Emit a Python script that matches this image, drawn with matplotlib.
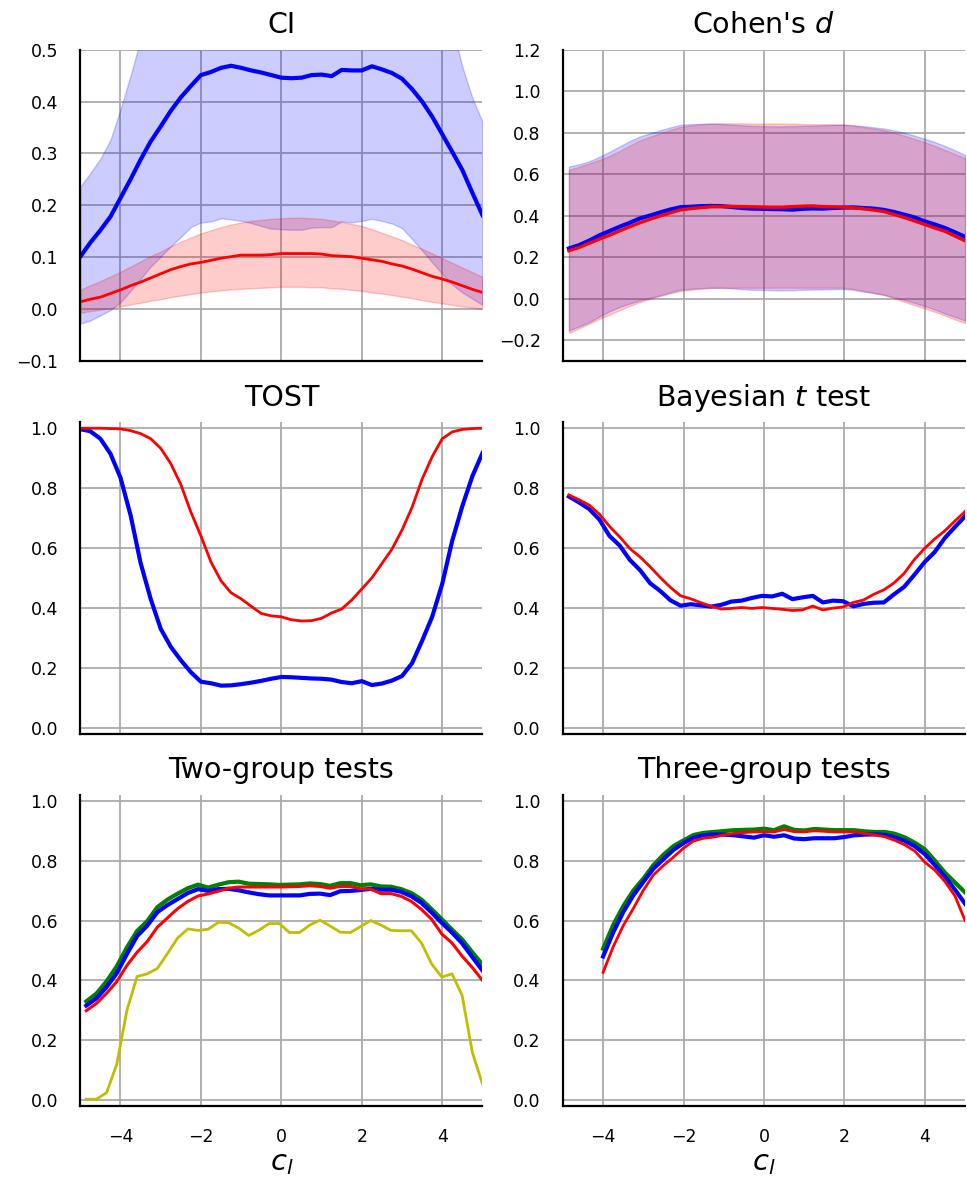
"""
Summary figure: interval estimates and detection rates as a function of c_l.
"""

import numpy as np
import matplotlib

matplotlib.use("Agg")
import matplotlib.pyplot as plt

# x grids
C_L_FULL = np.arange(-5.0, 5.01, 0.25)
C_L_SHORT = np.linspace(-4.85, 5.0, 40)
C_L_THREE = np.arange(-4.0, 5.01, 0.25)

# CI panel (grid C_L_FULL)
CI_BLUE_MEAN = [0.101, 0.128, 0.152, 0.178, 0.214, 0.250, 0.288, 0.323, 0.352, 0.382,
                0.408, 0.430, 0.451, 0.457, 0.465, 0.469, 0.465, 0.460, 0.456, 0.451,
                0.446, 0.445, 0.446, 0.451, 0.452, 0.449, 0.461, 0.460, 0.460, 0.468,
                0.462, 0.455, 0.444, 0.424, 0.400, 0.371, 0.337, 0.303, 0.268, 0.224,
                0.181]
CI_BLUE_LO = [-0.028, -0.022, -0.012, -0.002, 0.013, 0.035, 0.058, 0.082, 0.101, 0.121,
              0.139, 0.158, 0.167, 0.169, 0.175, 0.173, 0.170, 0.166, 0.160, 0.155,
              0.154, 0.153, 0.153, 0.157, 0.158, 0.158, 0.169, 0.167, 0.170, 0.174,
              0.170, 0.165, 0.156, 0.135, 0.113, 0.090, 0.068, 0.047, 0.032, 0.020,
              0.008]
CI_BLUE_HI = [0.236, 0.262, 0.290, 0.326, 0.385, 0.450, 0.520, 0.570, 0.603, 0.643,
              0.677, 0.702, 0.735, 0.745, 0.755, 0.765, 0.760, 0.754, 0.752, 0.747,
              0.738, 0.737, 0.739, 0.745, 0.746, 0.740, 0.753, 0.753, 0.750, 0.762,
              0.754, 0.745, 0.732, 0.713, 0.687, 0.652, 0.606, 0.545, 0.467, 0.407,
              0.361]
CI_RED_MEAN = [0.014, 0.019, 0.023, 0.030, 0.037, 0.045, 0.052, 0.060, 0.068, 0.076,
               0.082, 0.087, 0.090, 0.094, 0.098, 0.101, 0.104, 0.104, 0.104, 0.105,
               0.107, 0.107, 0.107, 0.107, 0.106, 0.103, 0.102, 0.101, 0.098, 0.095,
               0.092, 0.087, 0.083, 0.077, 0.070, 0.063, 0.058, 0.052, 0.045, 0.038,
               0.032]
CI_RED_LO = [-0.007, -0.004, -0.001, 0.002, 0.005, 0.009, 0.012, 0.016, 0.019, 0.023,
             0.026, 0.029, 0.032, 0.034, 0.036, 0.038, 0.039, 0.040, 0.041, 0.042,
             0.043, 0.043, 0.043, 0.042, 0.042, 0.040, 0.039, 0.037, 0.035, 0.032,
             0.030, 0.027, 0.024, 0.021, 0.017, 0.014, 0.011, 0.008, 0.005, 0.003,
             0.000]
CI_RED_HI = [0.037, 0.046, 0.054, 0.063, 0.072, 0.082, 0.092, 0.102, 0.111, 0.121,
             0.130, 0.138, 0.146, 0.152, 0.158, 0.163, 0.167, 0.170, 0.172, 0.174,
             0.175, 0.176, 0.176, 0.175, 0.174, 0.171, 0.168, 0.164, 0.160, 0.154,
             0.147, 0.140, 0.133, 0.124, 0.116, 0.107, 0.098, 0.089, 0.080, 0.071,
             0.062]

# Cohen's d panel (grid C_L_SHORT)
D_BLUE_MEAN = [0.242, 0.258, 0.280, 0.305, 0.326, 0.347, 0.366, 0.387, 0.401, 0.416,
               0.430, 0.441, 0.443, 0.446, 0.447, 0.446, 0.442, 0.437, 0.434, 0.433,
               0.432, 0.431, 0.429, 0.433, 0.435, 0.434, 0.437, 0.439, 0.440, 0.437,
               0.434, 0.428, 0.418, 0.405, 0.392, 0.373, 0.358, 0.341, 0.320, 0.298]
D_BLUE_LO = [-0.153, -0.134, -0.113, -0.086, -0.061, -0.040, -0.023, -0.008, 0.004, 0.017,
             0.031, 0.044, 0.048, 0.051, 0.053, 0.052, 0.050, 0.046, 0.043, 0.042,
             0.041, 0.040, 0.041, 0.043, 0.044, 0.045, 0.046, 0.047, 0.043, 0.034,
             0.027, 0.019, 0.007, -0.006, -0.020, -0.035, -0.052, -0.071, -0.088, -0.105]
D_BLUE_HI = [0.637, 0.648, 0.662, 0.684, 0.708, 0.734, 0.760, 0.782, 0.797, 0.812,
             0.826, 0.838, 0.841, 0.843, 0.844, 0.842, 0.839, 0.836, 0.833, 0.832,
             0.831, 0.831, 0.832, 0.833, 0.834, 0.836, 0.838, 0.839, 0.836, 0.831,
             0.826, 0.820, 0.811, 0.800, 0.786, 0.771, 0.755, 0.736, 0.715, 0.693]
D_RED_MEAN = [0.231, 0.247, 0.267, 0.287, 0.306, 0.327, 0.347, 0.366, 0.383, 0.399,
              0.414, 0.428, 0.434, 0.439, 0.443, 0.444, 0.445, 0.444, 0.443, 0.442,
              0.441, 0.441, 0.444, 0.446, 0.447, 0.444, 0.443, 0.441, 0.438, 0.433,
              0.427, 0.420, 0.406, 0.391, 0.375, 0.358, 0.341, 0.325, 0.302, 0.279]
D_RED_LO = [-0.166, -0.143, -0.120, -0.098, -0.077, -0.055, -0.035, -0.016, 0.000, 0.013,
            0.026, 0.037, 0.043, 0.048, 0.052, 0.053, 0.053, 0.053, 0.053, 0.053,
            0.053, 0.053, 0.053, 0.053, 0.053, 0.053, 0.053, 0.053, 0.047, 0.038,
            0.029, 0.018, 0.002, -0.015, -0.031, -0.046, -0.063, -0.081, -0.100, -0.118]
D_RED_HI = [0.621, 0.636, 0.652, 0.669, 0.688, 0.712, 0.738, 0.763, 0.781, 0.797,
            0.814, 0.828, 0.835, 0.840, 0.844, 0.845, 0.845, 0.845, 0.844, 0.844,
            0.844, 0.844, 0.843, 0.842, 0.841, 0.841, 0.840, 0.839, 0.834, 0.827,
            0.820, 0.812, 0.800, 0.786, 0.770, 0.754, 0.737, 0.717, 0.697, 0.677]

# TOST panel (grid C_L_FULL)
TOST_BLUE = [0.997, 0.990, 0.965, 0.915, 0.835, 0.710, 0.550, 0.430, 0.330, 0.270,
             0.225, 0.185, 0.153, 0.148, 0.140, 0.141, 0.145, 0.150, 0.156, 0.163,
             0.169, 0.168, 0.166, 0.164, 0.163, 0.160, 0.152, 0.148, 0.155, 0.142,
             0.147, 0.157, 0.172, 0.215, 0.290, 0.370, 0.480, 0.625, 0.740, 0.840,
             0.917]
TOST_RED = [1.000, 1.000, 1.000, 0.999, 0.998, 0.992, 0.982, 0.965, 0.933, 0.882,
            0.812, 0.720, 0.640, 0.553, 0.490, 0.450, 0.430, 0.405, 0.381, 0.373,
            0.370, 0.360, 0.356, 0.357, 0.365, 0.383, 0.396, 0.426, 0.463, 0.500,
            0.548, 0.596, 0.660, 0.736, 0.830, 0.905, 0.965, 0.988, 0.996, 0.999,
            1.000]

# Bayesian t test panel (grid C_L_SHORT)
BAYES_BLUE = [0.772, 0.752, 0.730, 0.695, 0.640, 0.608, 0.560, 0.526, 0.482, 0.456,
              0.425, 0.407, 0.412, 0.408, 0.404, 0.410, 0.421, 0.424, 0.433, 0.440,
              0.438, 0.447, 0.429, 0.435, 0.440, 0.418, 0.424, 0.422, 0.405, 0.413,
              0.417, 0.418, 0.445, 0.470, 0.510, 0.552, 0.586, 0.633, 0.670, 0.706]
BAYES_RED = [0.777, 0.761, 0.743, 0.713, 0.672, 0.637, 0.598, 0.570, 0.537, 0.501,
             0.468, 0.440, 0.430, 0.417, 0.405, 0.396, 0.398, 0.401, 0.398, 0.401,
             0.398, 0.395, 0.391, 0.393, 0.406, 0.393, 0.399, 0.403, 0.418, 0.426,
             0.445, 0.460, 0.483, 0.515, 0.561, 0.598, 0.630, 0.657, 0.690, 0.722]

# Two-group tests panel (grid C_L_SHORT)
TWO_GREEN = [0.330, 0.356, 0.397, 0.447, 0.510, 0.565, 0.598, 0.645, 0.670, 0.690,
             0.708, 0.720, 0.710, 0.720, 0.728, 0.730, 0.723, 0.722, 0.721, 0.719,
             0.720, 0.721, 0.724, 0.722, 0.716, 0.725, 0.725, 0.718, 0.721, 0.714,
             0.713, 0.705, 0.692, 0.670, 0.638, 0.604, 0.570, 0.537, 0.494, 0.453]
TWO_BLUE = [0.316, 0.340, 0.378, 0.424, 0.488, 0.548, 0.583, 0.628, 0.652, 0.672,
            0.692, 0.705, 0.699, 0.705, 0.706, 0.701, 0.694, 0.688, 0.684, 0.684,
            0.684, 0.684, 0.689, 0.690, 0.685, 0.698, 0.699, 0.702, 0.706, 0.703,
            0.703, 0.696, 0.681, 0.659, 0.627, 0.592, 0.560, 0.524, 0.478, 0.433]
TWO_RED = [0.299, 0.323, 0.357, 0.396, 0.450, 0.494, 0.530, 0.578, 0.609, 0.640,
           0.664, 0.682, 0.689, 0.698, 0.708, 0.712, 0.712, 0.712, 0.712, 0.712,
           0.713, 0.714, 0.716, 0.714, 0.708, 0.714, 0.714, 0.706, 0.705, 0.690,
           0.690, 0.681, 0.664, 0.637, 0.604, 0.555, 0.525, 0.481, 0.443, 0.400]
TWO_YELLOW = [0.003, 0.003, 0.025, 0.120, 0.300, 0.413, 0.422, 0.440, 0.490, 0.542,
              0.572, 0.567, 0.571, 0.594, 0.593, 0.575, 0.550, 0.568, 0.590, 0.590,
              0.560, 0.560, 0.585, 0.601, 0.582, 0.561, 0.560, 0.580, 0.600, 0.585,
              0.567, 0.566, 0.566, 0.525, 0.455, 0.411, 0.422, 0.350, 0.160, 0.054]

# Three-group tests panel (grid C_L_THREE)
THREE_GREEN = [0.506, 0.585, 0.648, 0.700, 0.740, 0.785, 0.820, 0.849, 0.868, 0.886,
               0.893, 0.896, 0.899, 0.902, 0.903, 0.904, 0.907, 0.902, 0.915, 0.903,
               0.901, 0.906, 0.904, 0.902, 0.902, 0.902, 0.898, 0.896, 0.896, 0.890,
               0.878, 0.860, 0.838, 0.800, 0.760, 0.727, 0.694]
THREE_BLUE = [0.480, 0.560, 0.628, 0.684, 0.729, 0.773, 0.805, 0.836, 0.859, 0.877,
              0.885, 0.888, 0.887, 0.885, 0.881, 0.877, 0.885, 0.880, 0.885, 0.874,
              0.872, 0.875, 0.875, 0.875, 0.879, 0.885, 0.887, 0.888, 0.886, 0.878,
              0.866, 0.848, 0.822, 0.785, 0.746, 0.703, 0.656]
THREE_RED = [0.427, 0.512, 0.583, 0.640, 0.701, 0.752, 0.784, 0.812, 0.842, 0.866,
             0.875, 0.879, 0.886, 0.891, 0.894, 0.896, 0.896, 0.896, 0.904, 0.897,
             0.896, 0.900, 0.898, 0.896, 0.896, 0.896, 0.891, 0.886, 0.880, 0.868,
             0.853, 0.832, 0.795, 0.768, 0.730, 0.682, 0.600]

X_TICKS = [-4, -2, 0, 2, 4]
TITLE_SIZE = 20.5
LABEL_SIZE = 21
TICK_SIZE = 12.5
LW_THICK = 3.0
LW_THIN = 2.0


def style_axis(ax, title, ylim, yticks, show_x=False):
    """Common look: grid under the data, left/bottom spines only, no tick marks."""
    ax.set_title(title, fontsize=TITLE_SIZE, pad=12)
    ax.set_xlim(-5, 5)
    ax.set_ylim(*ylim)
    ax.set_xticks(X_TICKS)
    ax.set_yticks(yticks)
    ax.set_axisbelow(True)
    ax.grid(True, color="#aaaaaa", linewidth=1.3)
    for side in ("top", "right"):
        ax.spines[side].set_visible(False)
    for side in ("left", "bottom"):
        ax.spines[side].set_linewidth(1.6)
        ax.spines[side].set_color("black")
    ax.tick_params(axis="both", length=0, pad=16, labelsize=TICK_SIZE)
    if show_x:
        ax.set_xlabel(r"$c_l$", fontsize=LABEL_SIZE, labelpad=2)
    else:
        ax.tick_params(axis="x", labelbottom=False)


def band(ax, x, mean, lo, hi, color, lw):
    ax.fill_between(x, lo, hi, color=color, alpha=0.2)
    ax.plot(x, mean, color=color, linewidth=lw)


fig, axes = plt.subplots(3, 2, figsize=(9.67, 11.83), dpi=100)
fig.subplots_adjust(left=0.083, right=0.998, top=0.958, bottom=0.065,
                    wspace=0.2, hspace=0.197)

# CI
ax = axes[0, 0]
band(ax, C_L_FULL, CI_BLUE_MEAN, CI_BLUE_LO, CI_BLUE_HI, "b", LW_THICK)
band(ax, C_L_FULL, CI_RED_MEAN, CI_RED_LO, CI_RED_HI, "r", LW_THIN)
style_axis(ax, "CI", (-0.1, 0.5), np.round(np.arange(-0.1, 0.51, 0.1), 1))

# Cohen's d
ax = axes[0, 1]
band(ax, C_L_SHORT, D_BLUE_MEAN, D_BLUE_LO, D_BLUE_HI, "b", LW_THICK)
band(ax, C_L_SHORT, D_RED_MEAN, D_RED_LO, D_RED_HI, "r", 2.4)
style_axis(ax, r"Cohen's $d$", (-0.3, 1.2), np.round(np.arange(-0.2, 1.21, 0.2), 1))

prob_ticks = np.round(np.arange(0.0, 1.01, 0.2), 1)
prob_lim = (-0.02, 1.02)

# TOST
ax = axes[1, 0]
ax.plot(C_L_FULL, TOST_BLUE, color="b", linewidth=LW_THICK)
ax.plot(C_L_FULL, TOST_RED, color="r", linewidth=LW_THIN)
style_axis(ax, "TOST", prob_lim, prob_ticks)

# Bayesian t test
ax = axes[1, 1]
ax.plot(C_L_SHORT, BAYES_BLUE, color="b", linewidth=LW_THICK)
ax.plot(C_L_SHORT, BAYES_RED, color="r", linewidth=LW_THIN)
style_axis(ax, r"Bayesian $t$ test", prob_lim, prob_ticks)

# Two-group tests
ax = axes[2, 0]
ax.plot(C_L_SHORT, TWO_GREEN, color="g", linewidth=LW_THICK)
ax.plot(C_L_SHORT, TWO_BLUE, color="b", linewidth=LW_THICK)
ax.plot(C_L_SHORT, TWO_RED, color="r", linewidth=2.2)
ax.plot(C_L_SHORT, TWO_YELLOW, color="y", linewidth=LW_THIN)
style_axis(ax, "Two-group tests", prob_lim, prob_ticks, show_x=True)

# Three-group tests
ax = axes[2, 1]
ax.plot(C_L_THREE, THREE_GREEN, color="g", linewidth=LW_THICK)
ax.plot(C_L_THREE, THREE_BLUE, color="b", linewidth=LW_THICK)
ax.plot(C_L_THREE, THREE_RED, color="r", linewidth=LW_THIN)
style_axis(ax, "Three-group tests", prob_lim, prob_ticks, show_x=True)

fig.savefig("out.png", dpi=100)
